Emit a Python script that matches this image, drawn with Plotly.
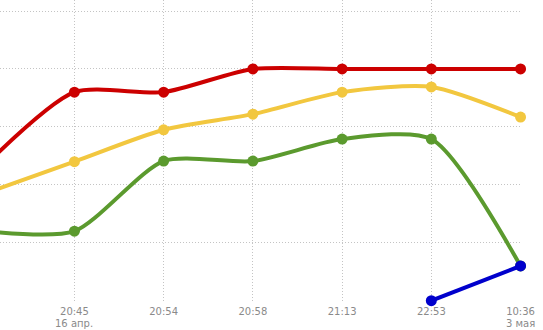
import plotly.graph_objects as go

# category positions (index -1 is the previous point, off-screen to the left)
x_idx = [-1, 0, 1, 2, 3, 4, 5]
tick_vals = [0, 1, 2, 3, 4, 5]
tick_labels = ["20:45", "20:54", "20:58", "21:13", "22:53", "10:36"]
date_labels = {0: "16 апр.", 5: "3 мая"}

red = [2.34, 3.60, 3.60, 4.00, 4.00, 4.00, 4.00]
yellow = [1.85, 2.40, 2.95, 3.22, 3.60, 3.69, 3.17]
green = [1.20, 1.20, 2.41, 2.41, 2.79, 2.79, 0.60]
blue = [None, None, None, None, None, 0.00, 0.60]

series = [
    ("red", red, "#cc0000"),
    ("yellow", yellow, "#f2c73f"),
    ("green", green, "#5b9a2e"),
    ("blue", blue, "#0000cc"),
]

FONT = "DejaVu Sans, Verdana, sans-serif"

fig = go.Figure()
for name, vals, col in series:
    fig.add_trace(go.Scatter(
        x=x_idx, y=vals, name=name, mode="lines+markers",
        line=dict(color=col, width=4, shape="spline", smoothing=0.7),
        marker=dict(color=col, size=11),
        cliponaxis=False, connectgaps=False,
    ))

for k, txt in date_labels.items():
    fig.add_annotation(x=k, y=0, xref="x", yref="paper", yshift=-15,
                       text=txt, showarrow=False, yanchor="top",
                       font=dict(family=FONT, size=10, color="#8a8a8a"))

fig.update_layout(
    width=543, height=330,
    margin=dict(l=0, r=22, t=0, b=29),
    paper_bgcolor="white", plot_bgcolor="white",
    showlegend=False,
    xaxis=dict(range=[-0.834, 5.005], tickvals=tick_vals, ticktext=tick_labels,
               showgrid=True, gridcolor="#c4c4c4", griddash="1px,2px", gridwidth=1,
               zeroline=False, showline=False, ticks="", ticklabelstandoff=3,
               tickfont=dict(family=FONT, size=10, color="#8a8a8a")),
    yaxis=dict(range=[-0.005, 5.19], dtick=1, tick0=0,
               showgrid=True, gridcolor="#c4c4c4", griddash="1px,2px", gridwidth=1,
               zeroline=False, showline=False, showticklabels=False, ticks=""),
)
fig.write_html("out.html")
